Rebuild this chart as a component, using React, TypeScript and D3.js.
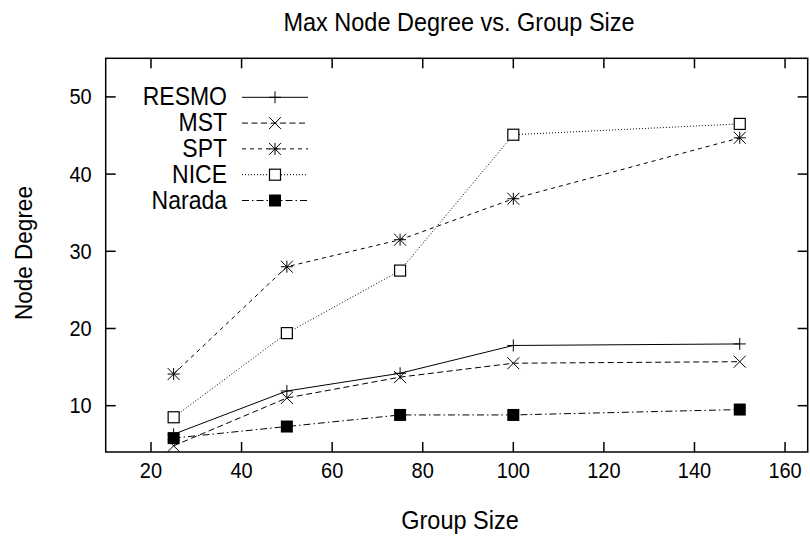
import React from "react";
import * as d3 from "d3";

const groupSizes = [25, 50, 75, 100, 150];
const resmo = [6.3, 11.9, 14.2, 17.8, 18.0];
const mst = [4.8, 11.0, 13.7, 15.5, 15.7];
const spt = [14.1, 28.0, 31.5, 36.8, 44.7];
const nice = [8.5, 19.4, 27.5, 45.1, 46.5];
const narada = [5.8, 7.3, 8.8, 8.8, 9.5];

const xTicks = [20, 40, 60, 80, 100, 120, 140, 160];
const yTicks = [10, 20, 30, 40, 50];

const series = [
  { name: "RESMO", values: resmo, dash: "none", marker: "plus" },
  { name: "MST", values: mst, dash: "6,3.5", marker: "cross" },
  { name: "SPT", values: spt, dash: "4,4", marker: "star" },
  { name: "NICE", values: nice, dash: "1,2", marker: "box" },
  { name: "Narada", values: narada, dash: "7,3,1.5,3", marker: "fbox" },
];

const W = 810;
const H = 536;
const font = "'Liberation Sans', Arial, Helvetica, sans-serif";

function Marker({ kind, cx, cy }: { kind: string; cx: number; cy: number }) {
  const s = 6;
  const st = { stroke: "#000", strokeWidth: 1, fill: "none" };
  if (kind === "plus")
    return <path d={`M${cx - s},${cy}H${cx + s}M${cx},${cy - s}V${cy + s}`} {...st} />;
  if (kind === "cross")
    return <path d={`M${cx - s},${cy - s}L${cx + s},${cy + s}M${cx - s},${cy + s}L${cx + s},${cy - s}`} {...st} />;
  if (kind === "star")
    return (
      <path
        d={`M${cx - s},${cy}H${cx + s}M${cx},${cy - s}V${cy + s}M${cx - s},${cy - s}L${cx + s},${cy + s}M${cx - s},${cy + s}L${cx + s},${cy - s}`}
        {...st}
      />
    );
  if (kind === "box")
    return <rect x={cx - 5.5} y={cy - 5.5} width={11} height={11} fill="#fff" stroke="#000" strokeWidth={1.2} />;
  return <rect x={cx - 6} y={cy - 6} width={12} height={12} fill="#000" />;
}

// text slightly stretched vertically, like the original postscript output
function T({ x, y, size, anchor, rotate, children }: any) {
  const tr = `translate(${x},${y})${rotate ? ` rotate(${rotate})` : ""} scale(1,1.1)`;
  return (
    <text transform={tr} textAnchor={anchor || "middle"} fontSize={size}>
      {children}
    </text>
  );
}

export default function App() {
  const x = d3.scaleLinear().domain([10, 165]).range([105.7, 807.7]);
  const y = d3.scaleLinear().domain([4, 55]).range([452, 58.3]);
  const [x0, x1] = x.range();
  const [y0, y1] = y.range();

  const line = d3
    .line<number>()
    .x((_, i) => x(groupSizes[i]))
    .y((v) => y(v));

  const legendTextX = 227;
  const legendLine = [242, 308];
  const legendY0 = 97.3;
  const legendStep = 25.8;

  return (
    <svg
      width={W}
      height={H}
      style={{ position: "absolute", left: 0, top: 0, background: "#fff" }}
      fontFamily={font}
    >
      <rect width={W} height={H} fill="#fff" />
      <T x={459} y={31} size={23.5}>
        Max Node Degree vs. Group Size
      </T>

      {/* ticks, mirrored on all sides */}
      {xTicks.map((t) => (
        <g key={"x" + t}>
          <line x1={x(t)} x2={x(t)} y1={y0} y2={y0 - 10} stroke="#000" strokeWidth={1.5} />
          <line x1={x(t)} x2={x(t)} y1={y1} y2={y1 + 10} stroke="#000" strokeWidth={1.5} />
          <T x={x(t)} y={y0 + 26} size={20}>
            {t}
          </T>
        </g>
      ))}
      {yTicks.map((t) => (
        <g key={"y" + t}>
          <line x1={x0} x2={x0 + 10} y1={y(t)} y2={y(t)} stroke="#000" strokeWidth={1.5} />
          <line x1={x1} x2={x1 - 10} y1={y(t)} y2={y(t)} stroke="#000" strokeWidth={1.5} />
          <T x={x0 - 14} y={y(t) + 7.5} size={20} anchor="end">
            {t}
          </T>
        </g>
      ))}

      <T x={460} y={529} size={23.5}>
        Group Size
      </T>
      <T x={32} y={253} size={22.5} rotate={-90}>
        Node Degree
      </T>

      {/* series */}
      {series.map((s) => (
        <g key={s.name}>
          <path d={line(s.values) || ""} fill="none" stroke="#000" strokeWidth={1} strokeDasharray={s.dash} />
          {s.values.map((v, i) => (
            <Marker key={i} kind={s.marker} cx={x(groupSizes[i])} cy={y(v)} />
          ))}
        </g>
      ))}

      {/* legend */}
      {series.map((s, i) => {
        const ly = legendY0 + i * legendStep;
        return (
          <g key={"l" + s.name}>
            <T x={legendTextX} y={ly + 8} size={23} anchor="end">
              {s.name}
            </T>
            <line
              x1={legendLine[0]}
              x2={legendLine[1]}
              y1={ly}
              y2={ly}
              stroke="#000"
              strokeWidth={1}
              strokeDasharray={s.dash}
            />
            <Marker kind={s.marker} cx={(legendLine[0] + legendLine[1]) / 2} cy={ly} />
          </g>
        );
      })}

      <rect x={x0} y={y1} width={x1 - x0} height={y0 - y1} fill="none" stroke="#000" strokeWidth={1.5} />
    </svg>
  );
}
